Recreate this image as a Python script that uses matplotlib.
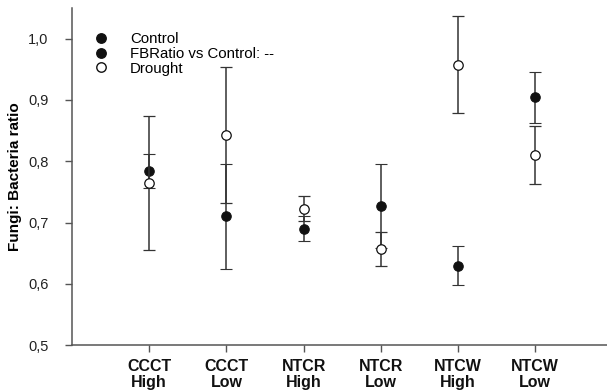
import matplotlib
matplotlib.use("Agg")
import matplotlib.pyplot as plt
from matplotlib.lines import Line2D

plt.rcParams['font.family'] = ['Liberation Sans', 'DejaVu Sans']

categories = ["CCCT\nHigh", "CCCT\nLow", "NTCR\nHigh", "NTCR\nLow", "NTCW\nHigh", "NTCW\nLow"]
control_mean = [0.784, 0.710, 0.690, 0.727, 0.630, 0.904]
control_err = [0.028, 0.085, 0.020, 0.069, 0.032, 0.041]
drought_mean = [0.764, 0.843, 0.723, 0.657, 0.957, 0.810]
drought_err = [0.109, 0.111, 0.021, 0.027, 0.079, 0.047]
yticks = [0.5, 0.6, 0.7, 0.8, 0.9, 1.0]
ytick_labels = ["0,5", "0,6", "0,7", "0,8", "0,9", "1,0"]

fig = plt.figure(figsize=(6.07, 3.92), dpi=100)
ax = fig.add_axes([0.1186, 0.119, 0.8814, 0.861])

x = list(range(1, len(categories) + 1))
axis_col = '#555555'
err_kw = dict(ecolor='#333333', elinewidth=1.1, capsize=4.5, capthick=1.1, linestyle='none')

ax.errorbar(x, control_mean, yerr=control_err, fmt='o', ms=6.8,
            mfc='#111111', mec='#111111', mew=0.8, **err_kw, zorder=3)
ax.errorbar(x, drought_mean, yerr=drought_err, fmt='o', ms=6.8,
            mfc='white', mec='#111111', mew=0.9, **err_kw, zorder=4)

ax.set_xlim(0, 6.93)
ax.set_ylim(0.5, 1.05)
ax.set_yticks(yticks)
ax.set_yticklabels(ytick_labels, fontsize=10.5, color='#222222')
ax.set_xticks(x)
ax.set_xticklabels(categories, fontsize=11.5, fontweight='bold', color='#111111', linespacing=1.05)
ax.tick_params(axis='both', direction='out', length=5, width=1, color=axis_col)
ax.tick_params(axis='x', pad=5)
ax.tick_params(axis='y', pad=12)

for s in ['top', 'right']:
    ax.spines[s].set_visible(False)
for s in ['left', 'bottom']:
    ax.spines[s].set_color(axis_col)
    ax.spines[s].set_linewidth(1.1)

ax.set_ylabel("Fungi: Bacteria ratio", fontsize=11, fontweight='bold', labelpad=4)

handles = [
    Line2D([], [], marker='o', ls='none', ms=6.8, mfc='#111111', mec='#111111'),
    Line2D([], [], marker='o', ls='none', ms=6.8, mfc='#111111', mec='#111111'),
    Line2D([], [], marker='o', ls='none', ms=6.8, mfc='white', mec='#111111'),
]
labels = ["Control", "FBRatio vs Control: --", "Drought"]
ax.legend(handles, labels, loc='upper left', bbox_to_anchor=(0.010, 0.955), frameon=False,
          fontsize=10.8, handletextpad=0.9, labelspacing=0.05, borderaxespad=0.2)

fig.savefig("out.png", dpi=100)
